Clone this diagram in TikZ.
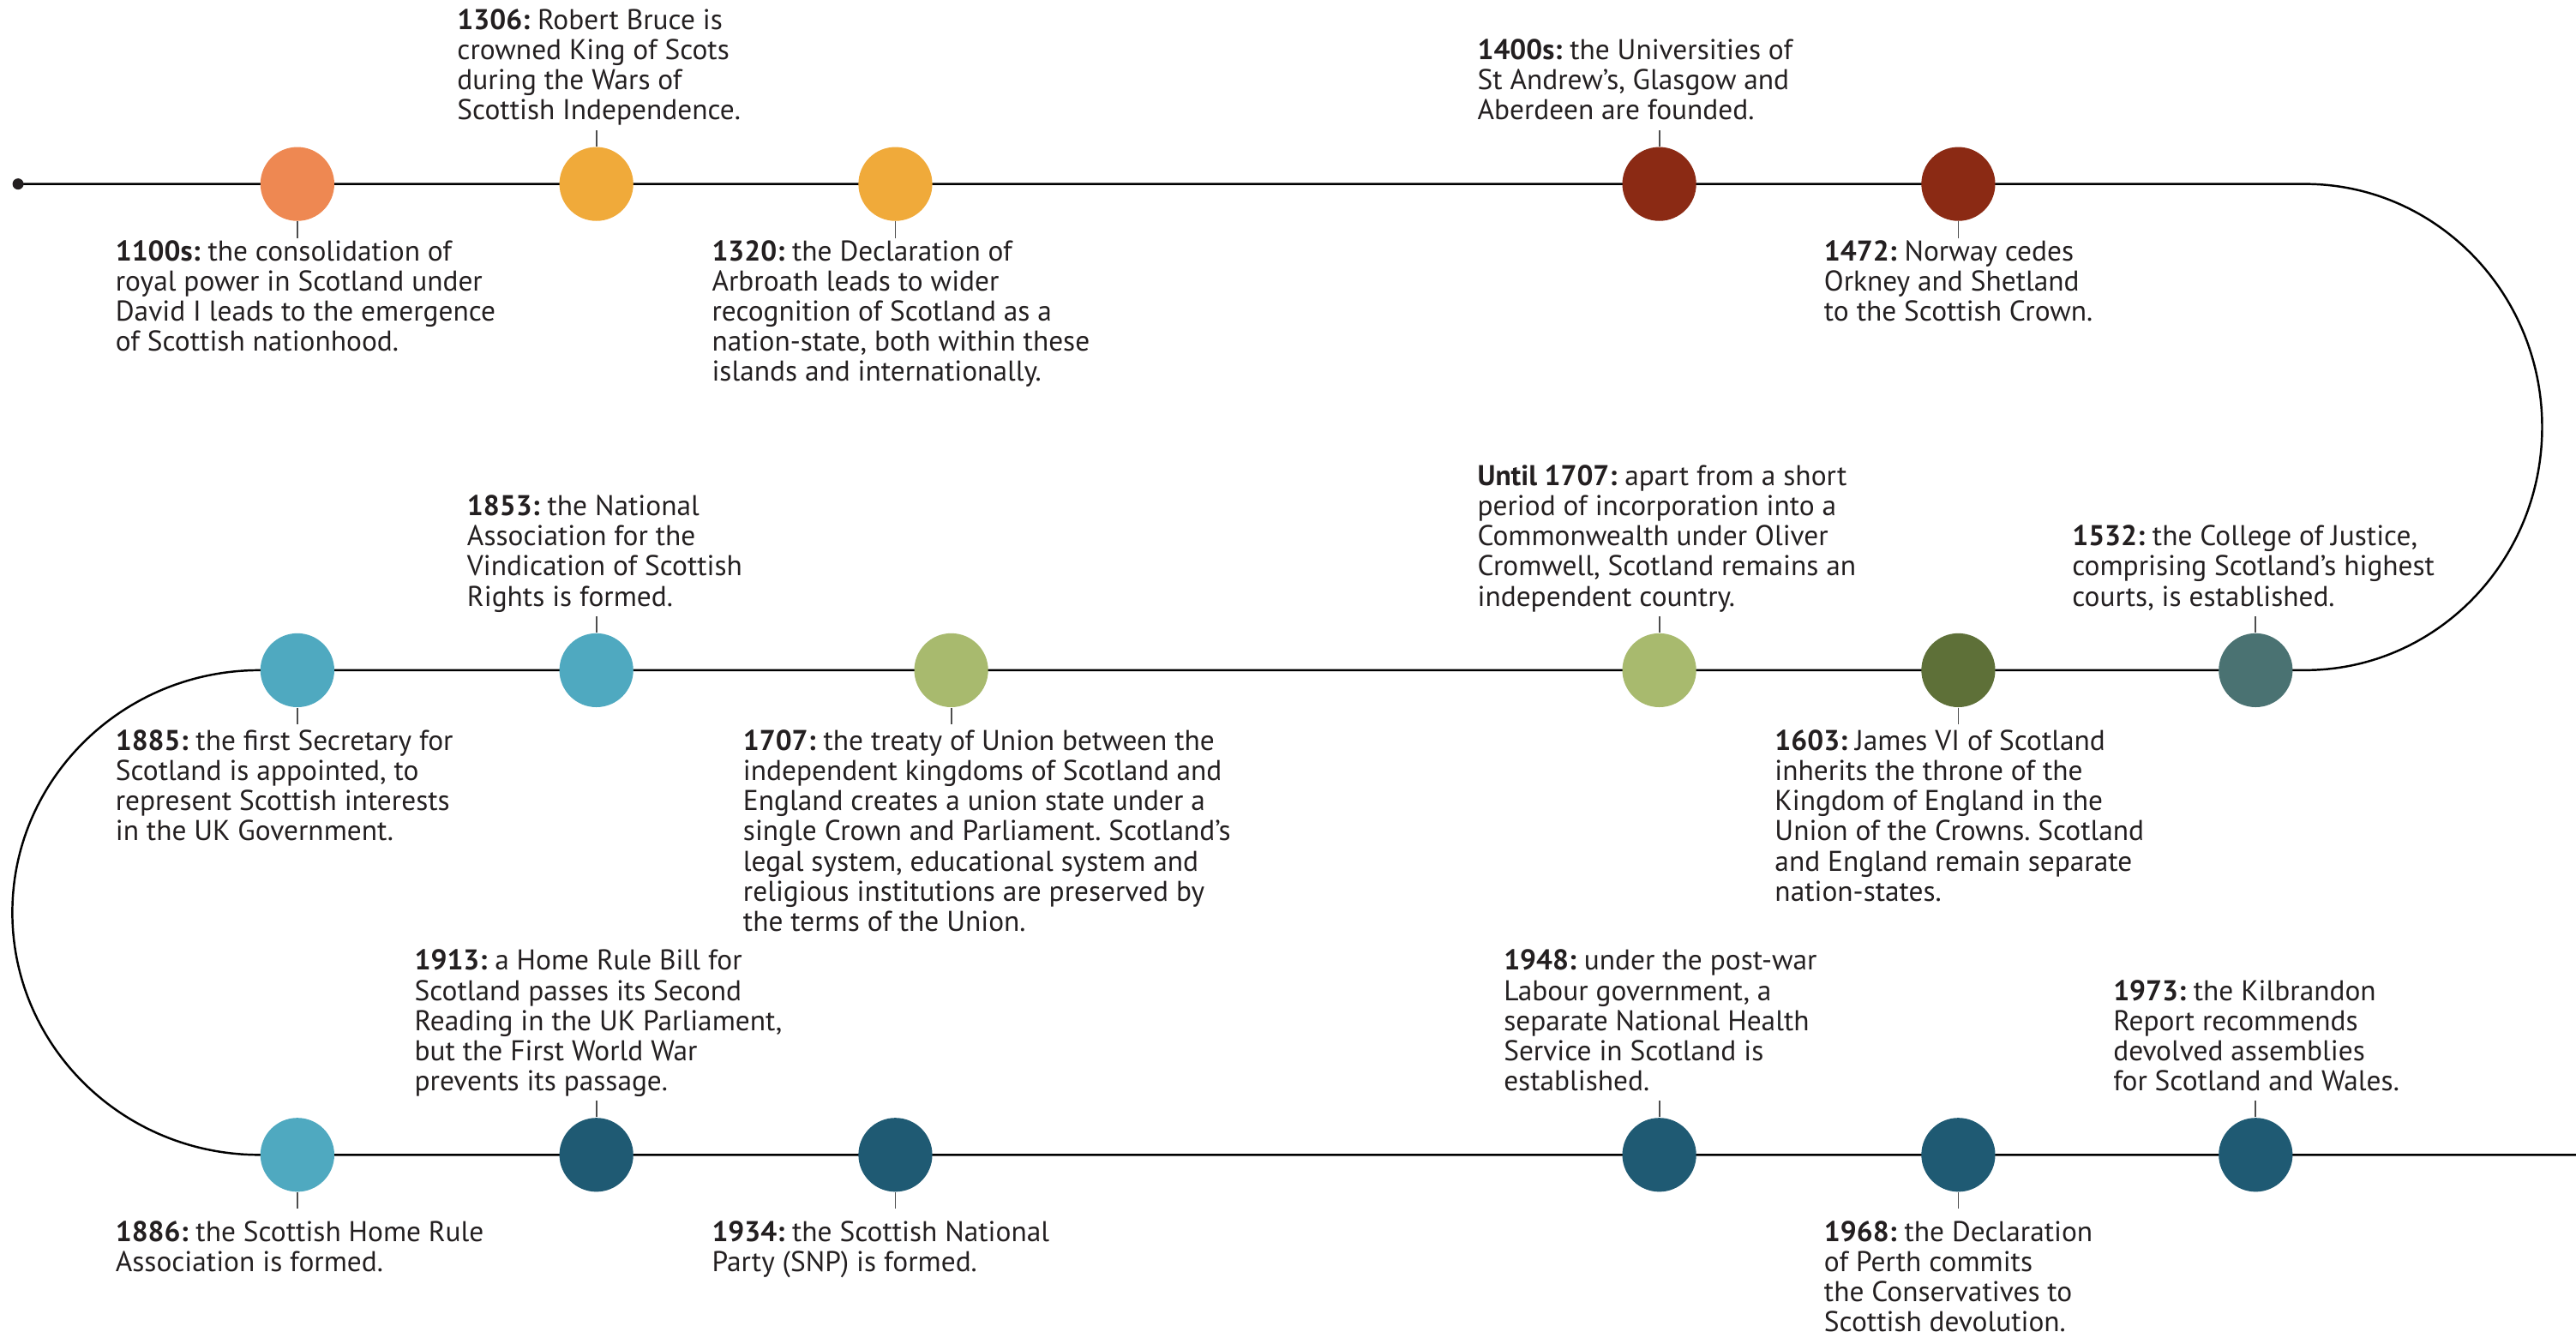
\documentclass[tikz,border=0pt]{standalone}
\usepackage{fontspec}
\setmainfont{PT Sans}
\usepackage{tikz}
\frenchspacing

\definecolor{txt}{HTML}{231F20}
\definecolor{tickgray}{HTML}{4D4D4D}
\definecolor{orng}{HTML}{EE8852}
\definecolor{ylw}{HTML}{F0AA3A}
\definecolor{rust}{HTML}{8B2A14}
\definecolor{slate}{HTML}{4A7272}
\definecolor{olive}{HTML}{5E7038}
\definecolor{lgreen}{HTML}{A8BA6E}
\definecolor{lblue}{HTML}{4FA9C0}
\definecolor{dblue}{HTML}{1F5A73}

\begin{document}
\begin{tikzpicture}[x=0.19165mm,y=-0.19165mm,
  ev/.style={circle,minimum size=8.62mm,inner sep=0pt,fill=#1},
  lbl/.style={align=left,inner sep=0pt,font=\fontsize{9.5}{10}\selectfont,text=txt},
  up/.style={lbl,text depth=2pt,anchor=south west},
  dn/.style={lbl,anchor=north west},
  tick/.style={draw=tickgray,line width=0.5pt}]
\useasboundingbox (0,0) rectangle (1568,814.5);

% the winding line
\coordinate (start) at (11,112);
\coordinate (turn1) at (1403,112);
\coordinate (turn2) at (158,408);
\coordinate (end) at (1568,703);
\draw[line width=0.7pt] (start) -- (turn1) arc[start angle=90,end angle=-90,x radius=27.67mm,y radius=28.36mm]
  -- (turn2) arc[start angle=90,end angle=270,x radius=28.84mm,y radius=28.27mm] -- (end);
\node[circle,fill=txt,inner sep=0pt,minimum size=1.3mm] (dot) at (start) {};

% first row
\node[ev=orng] (e1100) at (181,112) {};
\draw[tick] (e1100.south) -- ++(0,10);
\node[dn] (t1100) at (70,146) {\textbf{1100s:} the consolidation of\\royal power in Scotland under\\David I leads to the emergence\\of Scottish nationhood.};

\node[ev=ylw] (e1306) at (363,112) {};
\draw[tick] (e1306.north) -- ++(0,-10);
\node[up] (t1306) at (278,77) {\textbf{1306:} Robert Bruce is\\crowned King of Scots\\during the Wars of\\Scottish Independence.};

\node[ev=ylw] (e1320) at (545,112) {};
\draw[tick] (e1320.south) -- ++(0,10);
\node[dn] (t1320) at (433,146) {\textbf{1320:} the Declaration of\\Arbroath leads to wider\\recognition of Scotland as a\\nation-state, both within these\\islands and internationally.};

\node[ev=rust] (e1400) at (1010,112) {};
\draw[tick] (e1400.north) -- ++(0,-10);
\node[up] (t1400) at (899,77) {\textbf{1400s:} the Universities of\\St Andrew’s, Glasgow and\\Aberdeen are founded.};

\node[ev=rust] (e1472) at (1192,112) {};
\draw[tick] (e1472.south) -- ++(0,10);
\node[dn] (t1472) at (1110,146) {\textbf{1472:} Norway cedes\\Orkney and Shetland\\to the Scottish Crown.};

% second row
\node[ev=slate] (e1532) at (1373,408) {};
\draw[tick] (e1532.north) -- ++(0,-10);
\node[up] (t1532) at (1261,373) {\textbf{1532:} the College of Justice,\\comprising Scotland’s highest\\courts, is established.};

\node[ev=olive] (e1603) at (1192,408) {};
\draw[tick] (e1603.south) -- ++(0,10);
\node[dn] (t1603) at (1080,444) {\textbf{1603:} James VI of Scotland\\inherits the throne of the\\Kingdom of England in the\\Union of the Crowns. Scotland\\and England remain separate\\nation-states.};

\node[ev=lgreen] (eu1707) at (1010,408) {};
\draw[tick] (eu1707.north) -- ++(0,-10);
\node[up] (tu1707) at (899,373) {\textbf{Until 1707:} apart from a short\\period of incorporation into a\\Commonwealth under Oliver\\Cromwell, Scotland remains an\\independent country.};

\node[ev=lgreen] (e1707) at (579,408) {};
\draw[tick] (e1707.south) -- ++(0,10);
\node[dn] (t1707) at (452,444) {\textbf{1707:} the treaty of Union between the\\independent kingdoms of Scotland and\\England creates a union state under a\\single Crown and Parliament. Scotland’s\\legal system, educational system and\\religious institutions are preserved by\\the terms of the Union.};

\node[ev=lblue] (e1853) at (363,408) {};
\draw[tick] (e1853.north) -- ++(0,-10);
\node[up] (t1853) at (284,373) {\textbf{1853:} the National\\Association for the\\Vindication of Scottish\\Rights is formed.};

\node[ev=lblue] (e1885) at (181,408) {};
\draw[tick] (e1885.south) -- ++(0,10);
\node[dn] (t1885) at (70,444) {\textbf{1885:} the first Secretary for\\Scotland is appointed, to\\represent Scottish interests\\in the UK Government.};

% third row
\node[ev=lblue] (e1886) at (181,703) {};
\draw[tick] (e1886.south) -- ++(0,10);
\node[dn] (t1886) at (70,743) {\textbf{1886:} the Scottish Home Rule\\Association is formed.};

\node[ev=dblue] (e1913) at (363,703) {};
\draw[tick] (e1913.north) -- ++(0,-10);
\node[up] (t1913) at (252,668) {\textbf{1913:} a Home Rule Bill for\\Scotland passes its Second\\Reading in the UK Parliament,\\but the First World War\\prevents its passage.};

\node[ev=dblue] (e1934) at (545,703) {};
\draw[tick] (e1934.south) -- ++(0,10);
\node[dn] (t1934) at (433,743) {\textbf{1934:} the Scottish National\\Party (SNP) is formed.};

\node[ev=dblue] (e1948) at (1010,703) {};
\draw[tick] (e1948.north) -- ++(0,-10);
\node[up] (t1948) at (915,668) {\textbf{1948:} under the post-war\\Labour government, a\\separate National Health\\Service in Scotland is\\established.};

\node[ev=dblue] (e1968) at (1192,703) {};
\draw[tick] (e1968.south) -- ++(0,10);
\node[dn] (t1968) at (1110,743) {\textbf{1968:} the Declaration\\of Perth commits\\the Conservatives to\\Scottish devolution.};

\node[ev=dblue] (e1973) at (1373,703) {};
\draw[tick] (e1973.north) -- ++(0,-10);
\node[up] (t1973) at (1286,668) {\textbf{1973:} the Kilbrandon\\Report recommends\\devolved assemblies\\for Scotland and Wales.};
\end{tikzpicture}
\end{document}
